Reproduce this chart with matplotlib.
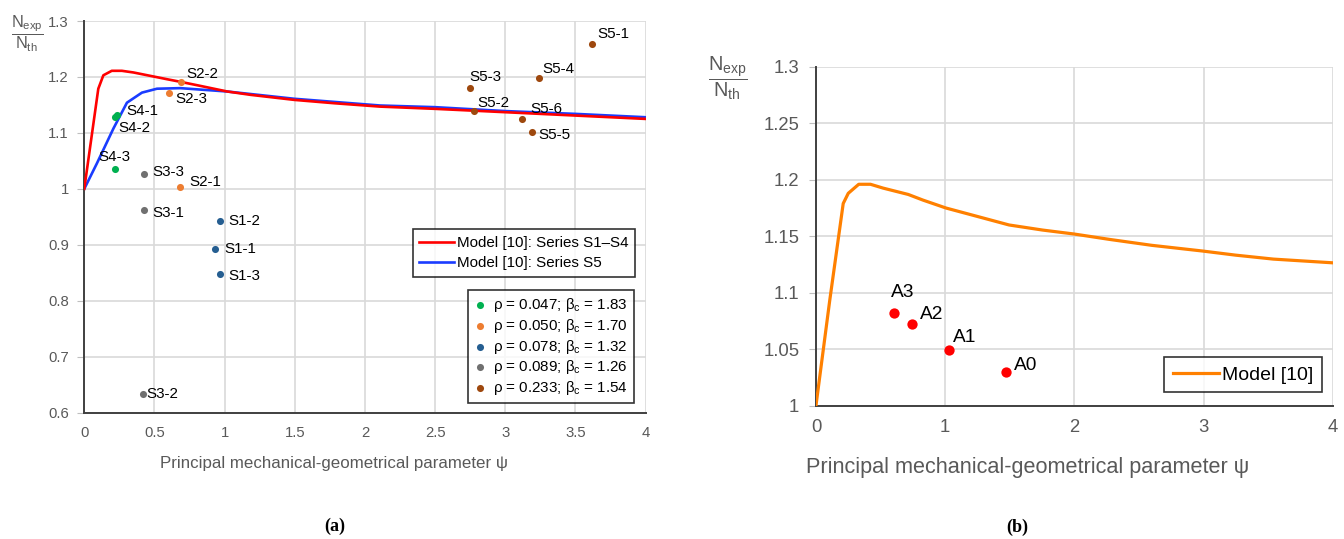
import numpy as np
import matplotlib
matplotlib.use("Agg")
import matplotlib.pyplot as plt
from matplotlib.ticker import FuncFormatter

plt.rcParams['font.family'] = ['Liberation Sans', 'DejaVu Sans']
plt.rcParams['mathtext.fontset'] = 'custom'
plt.rcParams['mathtext.rm'] = 'Liberation Sans'
plt.rcParams['mathtext.it'] = 'Liberation Sans:italic'
plt.rcParams['mathtext.bf'] = 'Liberation Sans:bold'

# ---- panel (a) data ----
red_psi = [0, 0.1, 0.136, 0.196, 0.268, 0.351, 0.47, 0.589, 0.692, 0.828, 1.019,
           1.186, 1.497, 1.783, 2.107, 2.5, 3.0, 3.5, 4.0]
red_ratio = [1.0, 1.179, 1.203, 1.211, 1.211, 1.208, 1.202, 1.196, 1.191, 1.184, 1.174,
             1.168, 1.159, 1.153, 1.147, 1.143, 1.137, 1.131, 1.125]
blue_psi = [0, 0.089, 0.208, 0.304, 0.411, 0.518, 0.685, 1.019, 1.497, 2.107, 2.5, 3.0, 3.5, 4.0]
blue_ratio = [1.0, 1.045, 1.108, 1.154, 1.172, 1.179, 1.180, 1.174, 1.161, 1.149, 1.146,
              1.139, 1.134, 1.128]

groups = ["ρ = 0.047; β$_\\mathrm{c}$ = 1.83", "ρ = 0.050; β$_\\mathrm{c}$ = 1.70",
          "ρ = 0.078; β$_\\mathrm{c}$ = 1.32", "ρ = 0.089; β$_\\mathrm{c}$ = 1.26",
          "ρ = 0.233; β$_\\mathrm{c}$ = 1.54"]
group_colors = ['#00B050', '#ED7D31', '#255E91', '#707070', '#9E480E']
spec_names = [["S4-1", "S4-2", "S4-3"],
              ["S2-1", "S2-2", "S2-3"],
              ["S1-1", "S1-2", "S1-3"],
              ["S3-1", "S3-2", "S3-3"],
              ["S5-1", "S5-2", "S5-3", "S5-4", "S5-5", "S5-6"]]
spec_psi = [[0.23, 0.22, 0.22],
            [0.68, 0.69, 0.607],
            [0.934, 0.97, 0.97],
            [0.426, 0.415, 0.426],
            [3.62, 2.78, 2.745, 3.24, 3.19, 3.12]]
spec_ratio = [[1.132, 1.128, 1.035],
              [1.0025, 1.191, 1.171],
              [0.893, 0.942, 0.848],
              [0.963, 0.633, 1.027],
              [1.259, 1.139, 1.181, 1.199, 1.102, 1.124]]
# label offsets in pixels (dx, dy)
lab_off = {"S4-1": (10, 4), "S4-2": (3, -11), "S4-3": (-17, 12), "S2-1": (10, 5), "S2-2": (5, 8),
           "S2-3": (6, -6), "S1-1": (9, 0), "S1-2": (8, 0), "S1-3": (8, -2), "S3-1": (8, -3),
           "S3-2": (4, 0), "S3-3": (8, 2), "S5-1": (5, 10), "S5-2": (3, 8), "S5-3": (0, 11),
           "S5-4": (3, 9), "S5-5": (6, -3), "S5-6": (8, 10)}

# ---- panel (b) data ----
model_psi = [0, 0.107, 0.211, 0.25, 0.331, 0.422, 0.52, 0.714, 0.828, 1.006, 1.234, 1.494,
             1.753, 1.997, 2.273, 2.597, 2.987, 3.247, 3.539, 4.0]
model_ratio = [1.0, 1.0935, 1.179, 1.188, 1.196, 1.196, 1.1926, 1.187, 1.182, 1.175, 1.168, 1.160,
               1.1555, 1.152, 1.1472, 1.142, 1.137, 1.1333, 1.1298, 1.1265]
a_names = ["A3", "A2", "A1", "A0"]
a_psi = [0.607, 0.743, 1.032, 1.471]
a_ratio = [1.082, 1.0724, 1.0494, 1.0303]
a_off = {"A3": (-3, 21), "A2": (8, 9), "A1": (4, 12), "A0": (8, 6)}

grid_c = '#D9D9D9'
tick_c = '#595959'
fmt = FuncFormatter(lambda v, p: f'{round(v, 2):g}')
frac_lbl = r'$\dfrac{\mathrm{N}_{\mathrm{exp}}}{\mathrm{N}_{\mathrm{th}}}$'

fig = plt.figure(figsize=(13.44, 5.39), dpi=100)


def style_axes(ax, fs, ypad):
    ax.grid(True, color=grid_c, linewidth=1.2, zorder=0)
    ax.set_axisbelow(True)
    for s in ['top', 'right']:
        ax.spines[s].set_visible(False)
    for s in ['left', 'bottom']:
        ax.spines[s].set_color('#404040')
        ax.spines[s].set_linewidth(1.4)
    ax.tick_params(axis='y', length=5, color='#BFBFBF', labelcolor=tick_c, labelsize=fs, pad=ypad)
    ax.tick_params(axis='x', length=0, labelcolor=tick_c, labelsize=fs, pad=9.6)
    ax.xaxis.set_major_formatter(fmt)
    ax.yaxis.set_major_formatter(fmt)


# ---------------- (a) ----------------
ax1 = fig.add_axes([0.0627, 0.2345, 0.4177, 0.7265])
style_axes(ax1, 10.7, 6)
ax1.set_xlim(0, 4)
ax1.set_ylim(0.6, 1.3)
ax1.set_xticks(np.arange(0, 4.01, 0.5))
ax1.set_yticks(np.arange(0.6, 1.301, 0.1))

l1, = ax1.plot(red_psi, red_ratio, color='#FF0000', lw=1.9, zorder=3, label='Model [10]: Series S1–S4')
l2, = ax1.plot(blue_psi, blue_ratio, color='#1A3CFF', lw=1.9, zorder=2, label='Model [10]: Series S5')

pts = []
for g, col, names, xs, ys in zip(groups, group_colors, spec_names, spec_psi, spec_ratio):
    sc = ax1.scatter(xs, ys, s=26, color=col, zorder=4, label=g, linewidths=0)
    pts.append(sc)
    for n, x, y in zip(names, xs, ys):
        dx, dy = lab_off[n]
        ax1.annotate(n, (x, y), xytext=(dx, dy), textcoords='offset pixels',
                     fontsize=10.9, va='center', ha='left', zorder=5)

leg1 = ax1.legend(handles=[l1, l2], loc='upper right', bbox_to_anchor=(0.981, 0.468),
                  borderaxespad=0, fontsize=10.9, frameon=True, fancybox=False,
                  handlelength=2.3, handletextpad=0.15, labelspacing=0.4, borderpad=0.45)
leg1.get_frame().set_edgecolor('#000000')
leg1.get_frame().set_linewidth(1.2)
ax1.add_artist(leg1)
leg2 = ax1.legend(handles=pts, loc='upper right', bbox_to_anchor=(0.980, 0.313),
                  borderaxespad=0, fontsize=10.9, frameon=True, fancybox=False,
                  handlelength=0.8, handletextpad=0.5, labelspacing=0.18, borderpad=0.4,
                  scatterpoints=1)
leg2.get_frame().set_edgecolor('#000000')
leg2.get_frame().set_linewidth(1.2)

ax1.set_xlabel('Principal mechanical-geometrical parameter ψ', fontsize=12.2, color=tick_c, va='center')
ax1.xaxis.set_label_coords(0.444, -0.129)
fig.text(27.5 / 1344, 1 - 33.5 / 539, frac_lbl,
         fontsize=11.7, color=tick_c, ha='center', va='center')

# ---------------- (b) ----------------
ax2 = fig.add_axes([0.6071, 0.2471, 0.3847, 0.6291])
style_axes(ax2, 13.3, 7)
ax2.set_xlim(0, 4)
ax2.set_ylim(1.0, 1.3)
ax2.set_xticks(np.arange(0, 4.01, 1))
ax2.set_yticks(np.arange(1.0, 1.301, 0.05))

l3, = ax2.plot(model_psi, model_ratio, color='#FF8000', lw=2.3, zorder=3, label='Model [10]')
ax2.scatter(a_psi, a_ratio, s=55, color='#FF0000', zorder=4, linewidths=0)
for n, x, y in zip(a_names, a_psi, a_ratio):
    dx, dy = a_off[n]
    ax2.annotate(n, (x, y), xytext=(dx, dy), textcoords='offset pixels',
                 fontsize=13.8, va='center', ha='left', zorder=5)

leg3 = ax2.legend(handles=[l3], loc='upper right', bbox_to_anchor=(0.979, 0.143),
                  borderaxespad=0, fontsize=14, frameon=True, fancybox=False,
                  handlelength=2.4, handletextpad=0.15, borderpad=0.45)
leg3.get_frame().set_edgecolor('#000000')
leg3.get_frame().set_linewidth(1.2)

ax2.set_xlabel('Principal mechanical-geometrical parameter ψ', fontsize=15.6, color=tick_c, va='center')
ax2.xaxis.set_label_coords(0.41, -0.183)
fig.text(728 / 1344, 1 - 78 / 539, frac_lbl,
         fontsize=14.4, color=tick_c, ha='center', va='center')

# captions
fig.text(335 / 1344, 1 - 526 / 539, '(a)', fontsize=13, fontweight='bold',
         family='Liberation Serif', ha='center', va='center')
fig.text(1017 / 1344, 1 - 527 / 539, '(b)', fontsize=13, fontweight='bold',
         family='Liberation Serif', ha='center', va='center')

fig.savefig('out.png', dpi=100)
